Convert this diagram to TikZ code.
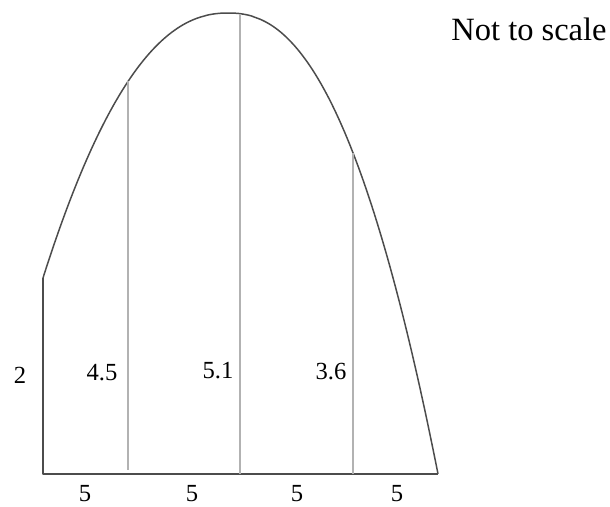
\documentclass[tikz,border=0pt]{standalone}
\usepackage{fontspec}
\setmainfont{Liberation Serif}
\tikzset{
  outline/.style={draw=black!70, line width=0.85pt, line join=round},
  ordinate/.style={draw=black!30, line width=0.6pt},
  lbl/.style={font=\fontsize{14}{16}\selectfont, inner sep=0pt}
}
\begin{document}
\begin{tikzpicture}[x=0.02cm, y=-0.02cm]
	\useasboundingbox (0,0) rectangle (610,507);
	% corners of the section
	\coordinate (A) at (43,474);
	\coordinate (B) at (43,278);
	\coordinate (E) at (438,474);
	% feet and tops of the ordinates
	\coordinate (f1) at (128,470); \coordinate (t1) at (128,81);
	\coordinate (f2) at (240,474); \coordinate (t2) at (240,14);
	\coordinate (f3) at (353,474); \coordinate (t3) at (353,153);
	
	\draw [outline] (B) -- (A) -- (E);
	\draw [outline, samples=80, variable=\x]
		plot [domain=43:227.9] (\x, {13+265*pow((228-\x)/185,2.2)})
		-- plot [domain=228.1:438] (\x, {13+461*pow((\x-228)/210,2.3)});
	
	\draw [ordinate] (f1) -- (t1);
	\draw [ordinate] (f2) -- (t2);
	\draw [ordinate] (f3) -- (t3);
	
	\node [lbl] (h0) at (20,375) {2};
	\node [lbl] (h1) at (102,373) {4.5};
	\node [lbl] (h2) at (218,371) {5.1};
	\node [lbl] (h3) at (331,372) {3.6};
	
	\node [lbl] (w1) at (85,494) {5};
	\node [lbl] (w2) at (192,494) {5};
	\node [lbl] (w3) at (297,494) {5};
	\node [lbl] (w4) at (397,494) {5};
	
	\node [lbl, font=\fontsize{18.5}{22}\selectfont] (note) at (529,29) {Not to scale};
\end{tikzpicture}
\end{document}
